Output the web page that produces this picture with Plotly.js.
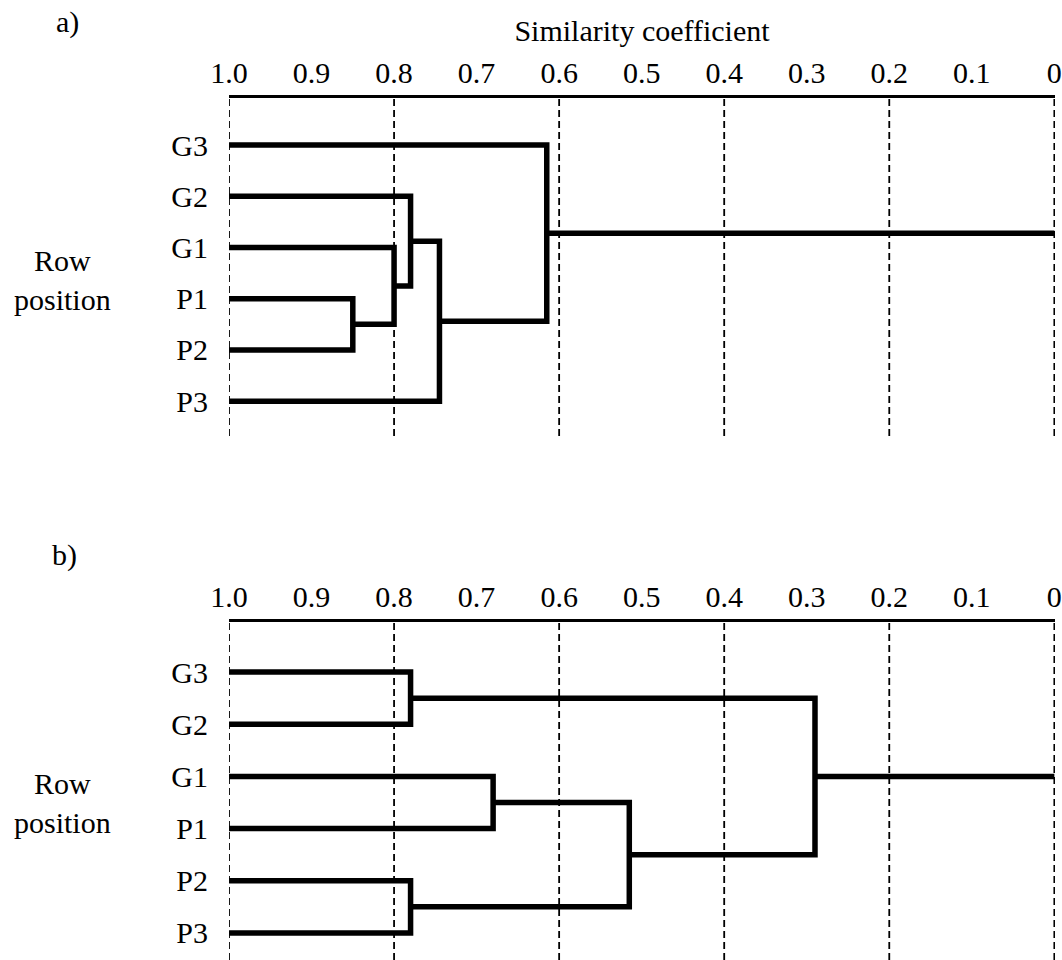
<!DOCTYPE html>
<html>
<head>
<meta charset="utf-8">
<script src="https://cdn.plot.ly/plotly-3.0.1.min.js"></script>
<style>
  html, body { margin: 0; padding: 0; background: #ffffff; }
  #chart { width: 1062px; height: 960px; }
</style>
</head>
<body>
<div id="chart"></div>
<script>
// ---- data ----
const leaves = ['G3', 'G2', 'G1', 'P1', 'P2', 'P3'];
const tickVals = [1.0, 0.9, 0.8, 0.7, 0.6, 0.5, 0.4, 0.3, 0.2, 0.1, 0];
const tickText = ['1.0', '0.9', '0.8', '0.7', '0.6', '0.5', '0.4', '0.3', '0.2', '0.1', '0'];
const gridVals = [1.0, 0.8, 0.6, 0.4, 0.2, 0];

// panel a) merges: node indices (0-5 leaves, 6+ merged clusters in order)
const mergeLeftA  = [3, 2, 1, 8, 0];
const mergeRightA = [4, 6, 7, 5, 9];
const mergeSimA   = [0.85, 0.80, 0.78, 0.745, 0.615];
const rootEndA = 0;

// panel b) merges
const mergeLeftB  = [0, 2, 4, 7, 6];
const mergeRightB = [1, 3, 5, 8, 9];
const mergeSimB   = [0.78, 0.68, 0.78, 0.515, 0.29];
const rootEndB = 0;

// ---- build dendrogram paths ----
function buildDendro(left, right, sims, rootEnd) {
  const nodeSim = leaves.map(() => 1.0);
  const nodeY = leaves.map((_, i) => i + 1);
  const xs = [], ys = [];
  for (let k = 0; k < sims.length; k++) {
    const a = left[k], b = right[k], s = sims[k];
    xs.push(nodeSim[a], s, s, nodeSim[b], null);
    ys.push(nodeY[a], nodeY[a], nodeY[b], nodeY[b], null);
    nodeSim.push(s);
    nodeY.push((nodeY[a] + nodeY[b]) / 2);
  }
  const last = nodeSim.length - 1;
  xs.push(nodeSim[last], rootEnd);
  ys.push(nodeY[last], nodeY[last]);
  return { xs, ys };
}

const dA = buildDendro(mergeLeftA, mergeRightA, mergeSimA, rootEndA);
const dB = buildDendro(mergeLeftB, mergeRightB, mergeSimB, rootEndB);

const lineStyle = { color: '#000000', width: 5.5 };
const traces = [
  { type: 'scatter', mode: 'lines', x: dA.xs, y: dA.ys, xaxis: 'x', yaxis: 'y',
    line: lineStyle, hoverinfo: 'skip', connectgaps: false },
  { type: 'scatter', mode: 'lines', x: dB.xs, y: dB.ys, xaxis: 'x2', yaxis: 'y2',
    line: lineStyle, hoverinfo: 'skip', connectgaps: false }
];

const FONT = '"Liberation Serif", "Times New Roman", serif';
const W = 1062, H = 960;

function xAxis(anchor, withTitle) {
  const ax = {
    domain: [229 / W, 1055 / W],
    anchor: anchor,
    side: 'top',
    range: [1.0, -0.0008],
    tickmode: 'array',
    tickvals: tickVals,
    ticktext: tickText,
    ticks: '',
    showline: true,
    linewidth: 3,
    linecolor: '#000000',
    showgrid: false,
    zeroline: false,
    fixedrange: true,
    automargin: false,
    tickfont: { family: FONT, size: 30, color: '#000000' }
  };
  if (withTitle) {
    ax.title = { text: 'Similarity coefficient', font: { family: FONT, size: 30, color: '#000000' }, standoff: 6 };
  }
  return ax;
}

function yAxis(domain, range) {
  return {
    domain: domain,
    range: range,
    tickmode: 'array',
    tickvals: leaves.map((_, i) => i + 1),
    ticktext: leaves,
    ticks: 'outside',
    ticklen: 14,
    tickcolor: 'rgba(0,0,0,0)',
    showline: false,
    showgrid: false,
    zeroline: false,
    fixedrange: true,
    automargin: false,
    tickfont: { family: FONT, size: 30, color: '#000000' }
  };
}

const shapes = [];
[['x', 'y'], ['x2', 'y2']].forEach(([xr, yr]) => {
  gridVals.forEach(v => {
    shapes.push({
      type: 'line', xref: xr, yref: yr + ' domain',
      x0: v, x1: v, y0: 0, y1: 1,
      line: { color: '#000000', width: 1.8, dash: '7px,4px' },
      layer: 'below'
    });
  });
});

const annFont = { family: FONT, size: 30, color: '#000000' };
const annotations = [
  { text: 'a)', xref: 'paper', yref: 'paper', x: 67 / W, y: 1 - 22 / H, showarrow: false, font: annFont, xanchor: 'center', yanchor: 'middle' },
  { text: 'b)', xref: 'paper', yref: 'paper', x: 64 / W, y: 1 - 555 / H, showarrow: false, font: annFont, xanchor: 'center', yanchor: 'middle' },
  { text: 'Row<br>position', xref: 'paper', yref: 'paper', x: 62 / W, y: 1 - 280 / H, showarrow: false, font: annFont, xanchor: 'center', yanchor: 'middle', align: 'center' },
  { text: 'Row<br>position', xref: 'paper', yref: 'paper', x: 62 / W, y: 1 - 803 / H, showarrow: false, font: annFont, xanchor: 'center', yanchor: 'middle', align: 'center' }
];

const layout = {
  width: W, height: H,
  margin: { l: 0, r: 0, t: 0, b: 0, pad: 0 },
  paper_bgcolor: '#ffffff',
  plot_bgcolor: '#ffffff',
  showlegend: false,
  font: { family: FONT, color: '#000000' },
  xaxis: xAxis('y', true),
  yaxis: yAxis([1 - 436 / H, 1 - 98 / H], [6.68, 0.08]),
  xaxis2: xAxis('y2', false),
  yaxis2: yAxis([0, 1 - 622 / H], [6.52, 0.04]),
  shapes: shapes,
  annotations: annotations
};

Plotly.newPlot('chart', traces, layout, { displayModeBar: false, staticPlot: true });
</script>
</body>
</html>
